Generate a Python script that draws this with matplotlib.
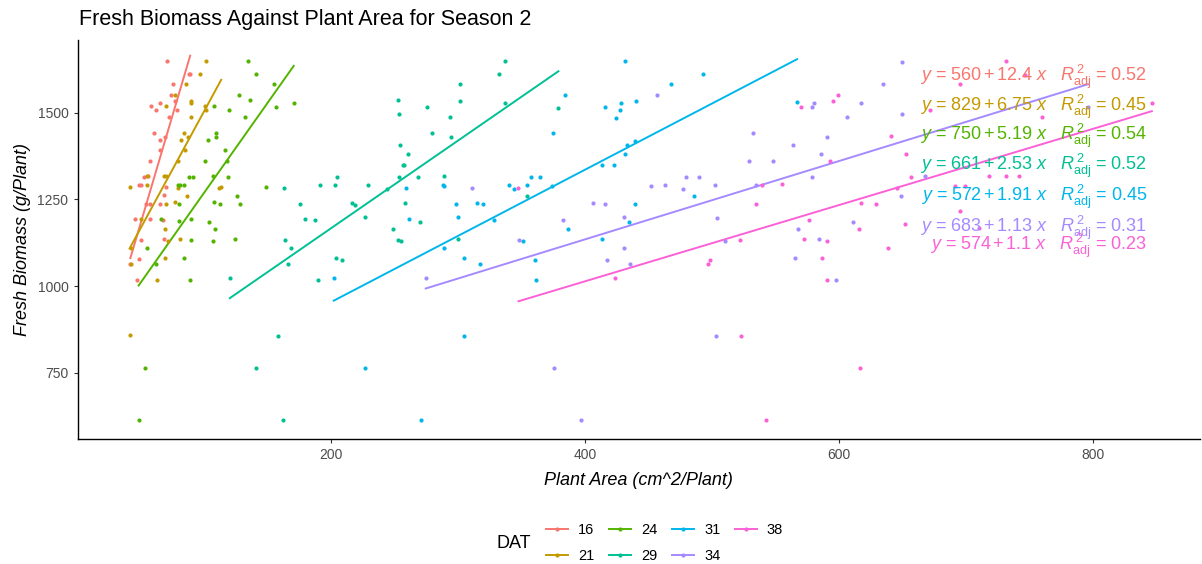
import numpy as np
import matplotlib
matplotlib.use("Agg")
import matplotlib.pyplot as plt
from matplotlib.lines import Line2D

plt.rcParams["font.family"] = ["Liberation Sans", "DejaVu Sans"]
plt.rcParams["mathtext.fontset"] = "custom"
plt.rcParams["mathtext.rm"] = "Liberation Sans"
plt.rcParams["mathtext.it"] = "Liberation Sans:italic"

# days after transplant (DAT) groups
dat_levels = ["16", "21", "24", "29", "31", "34", "38"]
colors = ["#F8766D", "#C49A00", "#53B400", "#00C094", "#00B6EB", "#A58AFF", "#FB61D7"]

# plant area (cm^2/plant) and fresh biomass (g/plant) per DAT
area_16 = [70.8, 88.1, 89.1, 75.5, 73.7, 77.3, 57.9, 65.0, 61.9, 78.6, 72.4, 60.3, 69.0, 65.0,
           65.0, 57.2, 52.4, 55.8, 48.5, 50.6, 70.3, 68.2, 65.0, 54.5, 57.7, 45.4, 57.2, 67.6,
           68.2, 50.6, 48.5, 47.5, 42.0]
mass_16 = [1649, 1611, 1611, 1582, 1550, 1535, 1519, 1529, 1508, 1508, 1488, 1442, 1431, 1421,
           1392, 1362, 1315, 1317, 1291, 1291, 1287, 1262, 1238, 1238, 1237, 1195, 1195, 1190,
           1137, 1133, 1077, 1017, 1065]

area_21 = [101.7, 96.5, 86.0, 77.3, 70.3, 89.4, 89.4, 100.4, 101.2, 89.7, 84.2, 87.3, 82.1, 84.7,
           79.4, 70.3, 68.4, 55.3, 42.0, 79.4, 86.5, 77.3, 70.3, 55.1, 50.6, 69.0, 81.3, 113.5,
           111.7, 42.2, 42.7, 41.4, 62.9, 69.0, 71.6]
mass_21 = [1649, 1611, 1582, 1550, 1519, 1535, 1527, 1519, 1508, 1488, 1442, 1431, 1421, 1392,
           1362, 1317, 1317, 1317, 1287, 1282, 1260, 1243, 1238, 1291, 1195, 1164, 1137, 1287,
           1282, 1109, 1065, 859, 1017, 1080, 1130]

area_24 = [134.5, 141.3, 154.7, 127.9, 135.8, 132.6, 156.8, 107.7, 119.3, 109.1, 109.1, 102.8,
           116.7, 100.9, 118.2, 107.2, 118.7, 87.8, 91.2, 81.3, 83.9, 79.4, 148.9, 125.8, 128.7,
           107.7, 112.2, 80.2, 66.3, 80.0, 104.3, 108.3, 89.9, 89.9, 107.0, 124.0, 84.2, 62.4,
           55.1, 88.9, 53.2, 48.5, 170.6]
mass_24 = [1649, 1611, 1582, 1550, 1537, 1488, 1517, 1519, 1508, 1442, 1431, 1421, 1392, 1362,
           1362, 1317, 1315, 1315, 1315, 1291, 1291, 1291, 1287, 1260, 1236, 1243, 1238, 1237,
           1195, 1188, 1186, 1164, 1195, 1133, 1130, 1137, 1080, 1065, 1109, 1017, 765, 613,
           1529]

area_29 = [120.3, 158.3, 141.3, 162.0, 163.3, 164.1, 168.5, 165.9, 175.4, 179.3, 187.7, 189.5,
           191.6, 203.1, 204.9, 203.9, 208.6, 216.3, 218.9, 226.7, 228.8, 243.8, 248.8, 252.4,
           255.0, 252.7, 253.8, 254.5, 260.3, 256.4, 257.7, 253.5, 258.5, 268.7, 275.5, 279.4,
           293.6, 294.4, 289.1, 270.0, 299.6, 301.7, 301.7, 331.8, 336.8, 336.8, 353.9, 379.0]
mass_29 = [1024, 857, 765, 613, 1284, 1133, 1109, 1064, 1236, 1195, 1190, 1017,
           1291, 1293, 1315, 1082, 1074, 1241, 1234, 1200, 1291, 1280, 1165, 1133,
           1130, 1538, 1496, 1408, 1381, 1350, 1350, 1315, 1239, 1315, 1518, 1442,
           1487, 1431, 1318, 1186, 1137, 1582, 1535, 1611, 1649, 1529, 1260, 1514]

area_31 = [202.1, 226.7, 270.5, 304.8, 259.2, 261.3, 288.6, 298.3, 300.1, 304.8, 317.4, 315.1,
           319.3, 328.4, 287.8, 289.1, 340.0, 344.0, 357.2, 364.8, 354.6, 374.9, 384.0, 386.9,
           360.2, 361.2, 350.8, 373.6, 431.4, 492.5, 467.6, 415.4, 428.5, 427.5, 424.1, 440.1,
           433.3, 439.3, 431.4, 413.6, 423.1, 439.3, 434.6, 413.6, 485.7, 566.9]
mass_31 = [1024, 765, 613, 857, 1284, 1195, 1109, 1236, 1200, 1082, 1064, 1241,
           1236, 1190, 1291, 1288, 1291, 1280, 1315, 1315, 1293, 1442, 1550, 1165,
           1074, 1017, 1130, 1288, 1649, 1611, 1582, 1518, 1529, 1507, 1486, 1535,
           1408, 1418, 1381, 1350, 1350, 1238, 1186, 1137, 1260, 1531]

area_34 = [310.6, 274.5, 375.3, 397.1, 406.0, 382.2, 348.1, 415.5, 430.7, 430.7, 417.6, 435.4,
           451.6, 462.9, 477.3, 479.1, 489.6, 501.9, 456.3, 532.3, 528.9, 547.8, 534.2, 503.8,
           502.7, 509.7, 580.0, 578.2, 605.9, 563.8, 585.8, 590.5, 578.2, 617.5, 634.6, 649.7,
           611.0, 567.4, 584.4, 564.9, 597.3, 649.7, 648.7, 795.8, 667.5]
mass_34 = [1284, 1024, 765, 613, 1241, 1190, 1133, 1236, 1200, 1109, 1074, 1064,
           1288, 1293, 1280, 1315, 1315, 1291, 1550, 1442, 1362, 1362, 1293, 1197,
           857, 1130, 1529, 1518, 1487, 1408, 1381, 1431, 1315, 1529, 1582, 1647,
           1186, 1165, 1137, 1082, 1017, 1496, 1260, 1516, 1317]

area_38 = [347.5, 534.7, 521.9, 496.4, 498.0, 423.8, 522.9, 542.0, 539.4, 555.1, 569.6, 595.3,
           599.0, 640.9, 593.1, 576.4, 572.3, 590.6, 586.7, 590.6, 615.5, 617.5, 628.6, 638.2,
           616.2, 645.6, 652.4, 656.2, 731.5, 695.4, 746.5, 671.3, 759.6, 846.1, 717.7, 731.6,
           741.3, 691.5, 699.4, 695.4, 652.1, 709.8]
mass_38 = [1284, 1236, 1133, 1064, 1074, 1024, 857, 613, 1292, 1294, 1518, 1535,
           1550, 1433, 1361, 1190, 1137, 1130, 1082, 1017, 1165, 1239, 1236, 1109,
           765, 1284, 1381, 1315, 1649, 1582, 1609, 1508, 1488, 1529, 1318, 1318,
           1318, 1290, 1290, 1216, 1180, 1168]

areas = [area_16, area_21, area_24, area_29, area_31, area_34, area_38]
masses = [mass_16, mass_21, mass_24, mass_29, mass_31, mass_34, mass_38]

# fitted linear models: biomass = intercept + slope * area
intercepts = [560, 829, 750, 661, 572, 683, 574]
slopes = [12.4, 6.75, 5.19, 2.53, 1.91, 1.13, 1.1]
r2_adj = [0.52, 0.45, 0.54, 0.52, 0.45, 0.31, 0.23]

fig = plt.figure(figsize=(12.02, 5.64), dpi=100)
ax = fig.add_axes([77.5 / 1202, 125 / 564, 1122.5 / 1202, 399 / 564])

for lvl, col, x, y, b0, b1 in zip(dat_levels, colors, areas, masses, intercepts, slopes):
    ax.scatter(x, y, s=9, color=col, linewidths=0, zorder=3)
    xs = np.array([min(x), max(x)])
    ax.plot(xs, b0 + b1 * xs, color=col, lw=1.4, zorder=2)

# equation + adjusted R^2 for each fit, stacked at the upper right
label_y = [0.897, 0.821, 0.749, 0.674, 0.596, 0.520, 0.474]
for col, b0, b1, r2, ly in zip(colors, intercepts, slopes, r2_adj, label_y):
    label = (rf"$y$ = {b0}$\,$+$\,${b1:g} $x$   "
             rf"$R^{{\,2}}_{{\mathrm{{adj}}}}$ = {r2:.2f}")
    ax.text(0.953, ly, label, transform=ax.transAxes, ha="right", va="baseline",
            color=col, fontsize=13, zorder=4)

ax.set_xlim(0.4, 884)
ax.set_ylim(559, 1710)
ax.set_xticks([200, 400, 600, 800])
ax.set_yticks([750, 1000, 1250, 1500])
ax.tick_params(colors="#333333", labelcolor="#4D4D4D", labelsize=10, length=3, width=0.8)
for side in ["top", "right"]:
    ax.spines[side].set_visible(False)
for side in ["left", "bottom"]:
    ax.spines[side].set_linewidth(1.0)

ax.set_xlabel("Plant Area (cm^2/Plant)", fontsize=13, style="italic", labelpad=7)
ax.set_ylabel("Fresh Biomass (g/Plant)", fontsize=13, style="italic", labelpad=5)
fig.text(79 / 1202, 1 - 20 / 564, "Fresh Biomass Against Plant Area for Season 2",
         fontsize=15.5, ha="left", va="center")

handles = [Line2D([], [], color=c, lw=1.4, marker="o", markersize=3, markeredgewidth=0)
           for c in colors]
fig.legend(handles, dat_levels, ncol=4, loc="center left",
           bbox_to_anchor=(533 / 1202, 1 - 543 / 564), frameon=False, fontsize=10.5,
           handlelength=1.5, handletextpad=0.7, columnspacing=1.0, labelspacing=0.85)
fig.text(497 / 1202, 1 - 544 / 564, "DAT", fontsize=13, ha="left", va="center")

fig.savefig("out.png", dpi=100)
